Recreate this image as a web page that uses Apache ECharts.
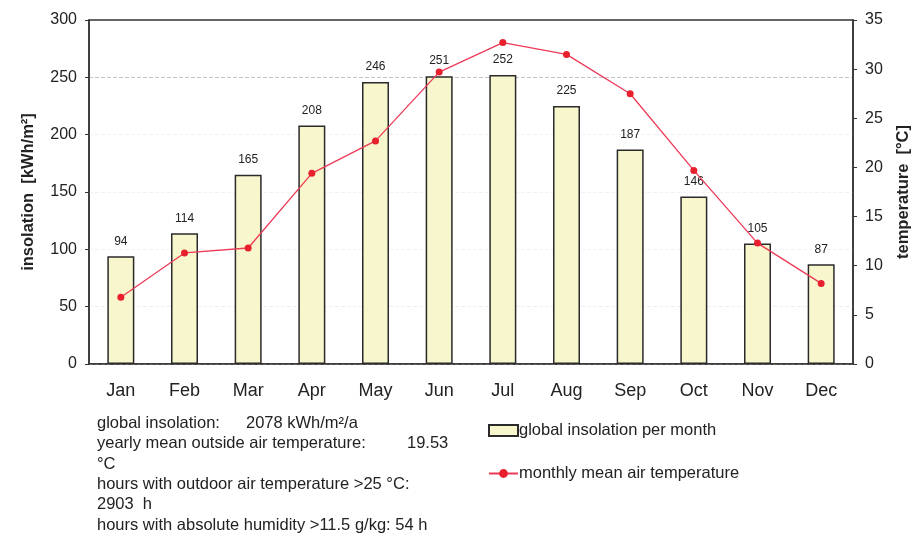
<!DOCTYPE html>
<html><head><meta charset="utf-8">
<script src="https://cdn.jsdelivr.net/npm/echarts@6/dist/echarts.min.js"></script>
<style>html,body{margin:0;padding:0;background:#fff}#c{width:919px;height:537px}</style>
</head><body><div id="c"></div>
<script>
var months = ['Jan','Feb','Mar','Apr','May','Jun','Jul','Aug','Sep','Oct','Nov','Dec'];
var insolation = [94,114,165,208,246,251,252,225,187,146,105,87];
var temperature = [6.8,11.3,11.8,19.4,22.7,29.7,32.7,31.5,27.5,19.7,12.3,8.2];
var leftTicks = [0,50,100,150,200,250,300];
var rightTicks = [0,5,10,15,20,25,30,35];
var infoLines = [
  'global insolation:',
  'yearly mean outside air temperature:',
  '°C',
  'hours with outdoor air temperature >25 °C:',
  '2903  h',
  'hours with absolute humidity >11.5 g/kg: 54 h'
];
var FONT = '"Liberation Sans", Arial, sans-serif';
var chart = echarts.init(document.getElementById('c'));
var txt = [];
infoLines.forEach(function(s, i){
  txt.push({type:'text', left:97, top:415 + i*20.3, style:{text:s, font:'16.5px '+FONT, fill:'#222'}});
});
txt.push({type:'text', left:246, top:415, style:{text:'2078 kWh/m²/a', font:'16.5px '+FONT, fill:'#222'}});
txt.push({type:'text', left:407, top:435.3, style:{text:'19.53', font:'16.5px '+FONT, fill:'#222'}});
chart.setOption({
  animation:false,
  textStyle:{fontFamily:FONT},
  grid:{left:89, right:66, top:20, bottom:173, show:true, borderColor:'#333', borderWidth:1.5, backgroundColor:'transparent', outerBoundsMode:'none', containLabel:false},
  legend:{
    orient:'vertical', left:483, top:417, itemGap:26, itemWidth:29, itemHeight:11,
    textStyle:{fontSize:16.5, color:'#222', fontFamily:FONT, padding:[0,0,0,-4]},
    data:[{name:'global insolation per month', icon:'rect'},{name:'monthly mean air temperature'}]
  },
  xAxis:{
    type:'category', data:months, boundaryGap:true,
    axisLine:{lineStyle:{color:'#333', width:1.5}},
    axisTick:{show:false},
    axisLabel:{fontSize:18, color:'#222', margin:18, fontFamily:FONT}
  },
  yAxis:[{
    type:'value', min:0, max:300, interval:50, position:'left',
    name:'insolation  [kWh/m²]', nameLocation:'middle', nameGap:52, nameRotate:90,
    nameTextStyle:{fontSize:16.5, fontWeight:'bold', color:'#222', fontFamily:FONT},
    axisLine:{show:true, lineStyle:{color:'#333', width:1.5}},
    axisTick:{show:true, length:4, lineStyle:{color:'#333'}},
    axisLabel:{fontSize:16, color:'#222', margin:12, fontFamily:FONT},
    splitLine:{show:true, lineStyle:{type:'dashed', color:['#f2f2f2','#eeeeee','#f2f2f2','#f2f2f2','#f2f2f2','#c4c4c4','rgba(0,0,0,0)']}}
  },{
    type:'value', min:0, max:35, interval:5, position:'right',
    name:'temperature  [°C]', nameLocation:'middle', nameGap:42, nameRotate:90,
    nameTextStyle:{fontSize:16.5, fontWeight:'bold', color:'#222', fontFamily:FONT},
    axisLine:{show:true, lineStyle:{color:'#333', width:1.5}},
    axisTick:{show:true, length:4, lineStyle:{color:'#333'}},
    axisLabel:{fontSize:16, color:'#222', margin:12, fontFamily:FONT},
    splitLine:{show:false}
  }],
  series:[{
    name:'global insolation per month', type:'bar', data:insolation, yAxisIndex:0,
    barWidth:27,
    itemStyle:{color:'#f8f6cc', borderColor:'#2a2a2a', borderWidth:1.5},
    label:{show:true, position:'top', distance:9, fontSize:12, color:'#222', fontFamily:FONT}
  },{
    name:'monthly mean air temperature', type:'line', data:temperature, yAxisIndex:1,
    symbol:'circle', symbolSize:7,
    lineStyle:{color:'#ec3a58', width:1.3},
    itemStyle:{color:'#e8202e'},
    z:5
  }],
  graphic:txt
});
</script></body></html>
